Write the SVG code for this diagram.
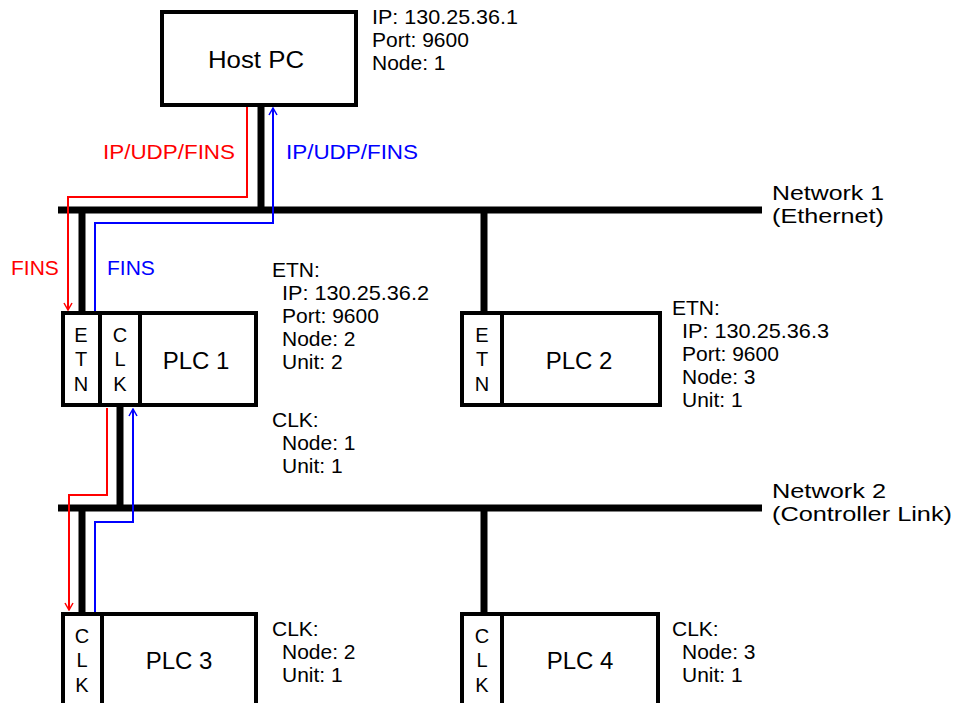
<svg xmlns="http://www.w3.org/2000/svg" width="957" height="703" viewBox="0 0 957 703">
<defs>
<style>
text{font-family:"Liberation Sans",Arial,sans-serif;fill:#000}
.lbl{font-size:21px}
.big{font-size:24px;text-anchor:middle}
.ltr{font-size:20px;text-anchor:middle}
.box{fill:#fff;stroke:#000;stroke-width:4}
.bus{stroke:#000;stroke-width:7;fill:none}
.red{stroke:#f00;stroke-width:2;fill:none}
.blue{stroke:#00f;stroke-width:2;fill:none}
.div{stroke:#000;stroke-width:4}
</style>
<marker id="ar" viewBox="0 0 10 10" refX="9" refY="5" markerWidth="10" markerHeight="10" markerUnits="userSpaceOnUse" orient="auto"><path d="M2,1 L9,5 L2,9" fill="none" stroke="#f00" stroke-width="1.5"/></marker>
<marker id="ab" viewBox="0 0 10 10" refX="9" refY="5" markerWidth="10" markerHeight="10" markerUnits="userSpaceOnUse" orient="auto"><path d="M2,1 L9,5 L2,9" fill="none" stroke="#00f" stroke-width="1.5"/></marker>
</defs>
<rect width="957" height="703" fill="#fff"/>

<g id="connectors">
<line class="bus" x1="261" y1="105" x2="261" y2="210"/>
<line class="bus" x1="58" y1="210" x2="762" y2="210"/>
<line class="bus" x1="82" y1="210" x2="82" y2="312"/>
<line class="bus" x1="484" y1="210" x2="484" y2="312"/>
<line class="bus" x1="120" y1="406" x2="120" y2="508"/>
<line class="bus" x1="58" y1="508" x2="762" y2="508"/>
<line class="bus" x1="82" y1="508" x2="82" y2="613"/>
<line class="bus" x1="484" y1="508" x2="484" y2="613"/>
<polyline class="red" points="247,107 247,197 68,197 68,310" marker-end="url(#ar)"/>
<polyline class="blue" points="95,311 95,223 273,223 273,108" marker-end="url(#ab)"/>
<polyline class="red" points="107,408 107,495 69,495 69,610" marker-end="url(#ar)"/>
<polyline class="blue" points="95,612 95,522 133,522 133,409" marker-end="url(#ab)"/>
<text class="lbl" x="103" y="159" style="fill:#f00" textLength="132" lengthAdjust="spacingAndGlyphs">IP/UDP/FINS</text>
<text class="lbl" x="286" y="159" style="fill:#00f" textLength="132" lengthAdjust="spacingAndGlyphs">IP/UDP/FINS</text>
<text class="lbl" x="11" y="275" style="fill:#f00">FINS</text>
<text class="lbl" x="107" y="275" style="fill:#00f">FINS</text>
</g>

<g id="host">
<rect class="box" x="162" y="12" width="194" height="93"/>
<text class="big" x="256" y="68" textLength="96" lengthAdjust="spacingAndGlyphs">Host PC</text>
<text class="lbl" x="372" y="24" textLength="146" lengthAdjust="spacingAndGlyphs">IP: 130.25.36.1</text>
<text class="lbl" x="372" y="47">Port: 9600</text>
<text class="lbl" x="372" y="70">Node: 1</text>
</g>

<g id="network1">
<text class="lbl" x="772" y="200" textLength="112" lengthAdjust="spacingAndGlyphs">Network 1</text>
<text class="lbl" x="772" y="223" textLength="112" lengthAdjust="spacingAndGlyphs">(Ethernet)</text>
</g>

<g id="plc1">
<rect class="box" x="63" y="313" width="193" height="92"/>
<line class="div" x1="100" y1="313" x2="100" y2="405"/>
<line class="div" x1="140" y1="313" x2="140" y2="405"/>
<text class="ltr" x="81" y="342">E</text>
<text class="ltr" x="81" y="366">T</text>
<text class="ltr" x="81" y="391">N</text>
<text class="ltr" x="120" y="342">C</text>
<text class="ltr" x="120" y="366">L</text>
<text class="ltr" x="120" y="391">K</text>
<text class="big" x="196" y="369">PLC 1</text>
<text class="lbl" x="272" y="277">ETN:</text>
<text class="lbl" x="282" y="300" textLength="147" lengthAdjust="spacingAndGlyphs">IP: 130.25.36.2</text>
<text class="lbl" x="282" y="323">Port: 9600</text>
<text class="lbl" x="282" y="346">Node: 2</text>
<text class="lbl" x="282" y="369">Unit: 2</text>
<text class="lbl" x="272" y="427">CLK:</text>
<text class="lbl" x="282" y="450">Node: 1</text>
<text class="lbl" x="282" y="473">Unit: 1</text>
</g>

<g id="plc2">
<rect class="box" x="462" y="313" width="198" height="92"/>
<line class="div" x1="502" y1="313" x2="502" y2="405"/>
<text class="ltr" x="482" y="342">E</text>
<text class="ltr" x="482" y="366">T</text>
<text class="ltr" x="482" y="391">N</text>
<text class="big" x="579" y="369">PLC 2</text>
<text class="lbl" x="672" y="315">ETN:</text>
<text class="lbl" x="682" y="338" textLength="147" lengthAdjust="spacingAndGlyphs">IP: 130.25.36.3</text>
<text class="lbl" x="682" y="361">Port: 9600</text>
<text class="lbl" x="682" y="384">Node: 3</text>
<text class="lbl" x="682" y="407">Unit: 1</text>
</g>

<g id="network2">
<text class="lbl" x="772" y="498" textLength="114" lengthAdjust="spacingAndGlyphs">Network 2</text>
<text class="lbl" x="772" y="521" textLength="180" lengthAdjust="spacingAndGlyphs">(Controller Link)</text>
</g>

<g id="plc3">
<rect class="box" x="63" y="614" width="193" height="120"/>
<line class="div" x1="102" y1="614" x2="102" y2="710"/>
<text class="ltr" x="82" y="643">C</text>
<text class="ltr" x="82" y="667">L</text>
<text class="ltr" x="82" y="692">K</text>
<text class="big" x="179" y="669">PLC 3</text>
<text class="lbl" x="272" y="636">CLK:</text>
<text class="lbl" x="282" y="659">Node: 2</text>
<text class="lbl" x="282" y="682">Unit: 1</text>
</g>

<g id="plc4">
<rect class="box" x="462" y="614" width="196" height="120"/>
<line class="div" x1="502" y1="614" x2="502" y2="710"/>
<text class="ltr" x="482" y="643">C</text>
<text class="ltr" x="482" y="667">L</text>
<text class="ltr" x="482" y="692">K</text>
<text class="big" x="580" y="669">PLC 4</text>
<text class="lbl" x="672" y="636">CLK:</text>
<text class="lbl" x="682" y="659">Node: 3</text>
<text class="lbl" x="682" y="682">Unit: 1</text>
</g>
</svg>
